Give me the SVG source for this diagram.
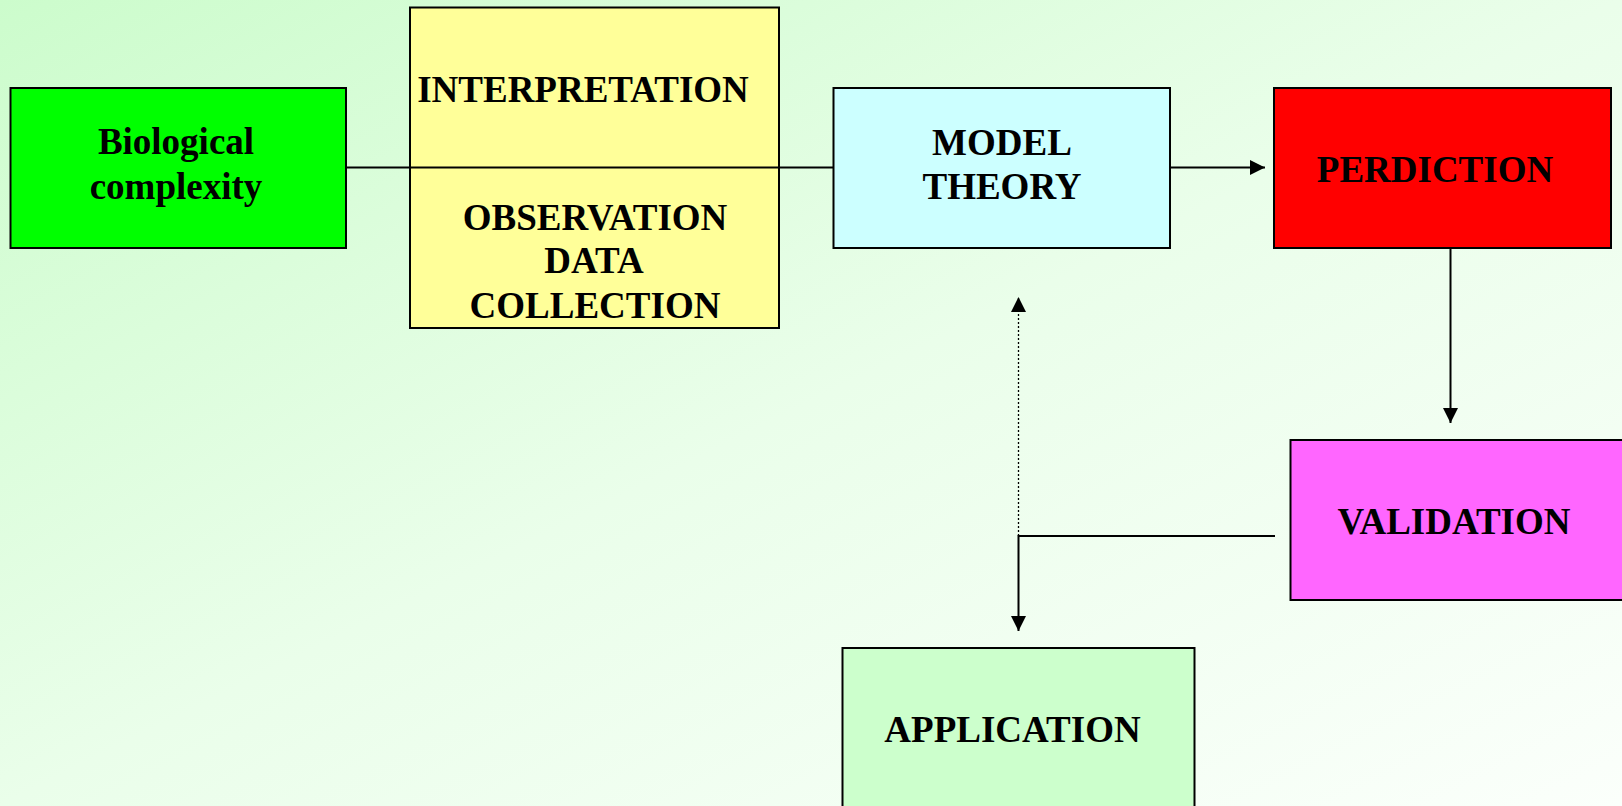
<svg xmlns="http://www.w3.org/2000/svg" width="1622" height="806" viewBox="0 0 1622 806">
<defs>
<linearGradient id="bg" x1="0" y1="0" x2="1" y2="1">
<stop offset="0" stop-color="#ccfccc"/>
<stop offset="0.5" stop-color="#eafeea"/>
<stop offset="1" stop-color="#fbfffb"/>
</linearGradient>
<marker id="arr" markerWidth="16" markerHeight="16" refX="15" refY="7.5" orient="auto" markerUnits="userSpaceOnUse">
<path d="M0,0 L15,7.5 L0,15 Z" fill="#000"/>
</marker>
</defs>
<style>
.box{stroke:#000;stroke-width:2}
.t{font-family:"Liberation Serif","Times New Roman",serif;font-weight:bold;font-size:37px;fill:#000;text-anchor:middle}
.c{stroke:#000;stroke-width:2;fill:none}
</style>
<rect width="1622" height="806" fill="url(#bg)"/>
<g id="connectors">
<line class="c" x1="346" y1="167.5" x2="833" y2="167.5"/>
<line class="c" x1="1170" y1="167.5" x2="1265" y2="167.5" marker-end="url(#arr)"/>
<line class="c" x1="1450.5" y1="248" x2="1450.5" y2="423" marker-end="url(#arr)"/>
<polyline class="c" points="1275,536 1018.5,536 1018.5,631" marker-end="url(#arr)"/>
<line x1="1018.5" y1="536" x2="1018.5" y2="297" stroke="#000" stroke-width="1.3" stroke-dasharray="2,2" marker-end="url(#arr)"/>
</g>
<g id="bio">
<rect class="box" x="10.5" y="88" width="335.5" height="160" fill="#00ff00"/>
<text class="t" x="176" y="154">Biological</text>
<text class="t" x="176" y="199">complexity</text>
</g>
<g id="interp">
<rect class="box" x="410" y="7.5" width="369" height="320.5" fill="#ffff99"/>
<line x1="410" y1="167.5" x2="779" y2="167.5" stroke="#000" stroke-width="2"/>
<text class="t" x="583" y="101.5">INTERPRETATION</text>
<text class="t" x="595" y="230">OBSERVATION</text>
<text class="t" x="594" y="273">DATA</text>
<text class="t" x="595" y="318">COLLECTION</text>
</g>
<g id="model">
<rect class="box" x="833.5" y="88" width="336.5" height="160" fill="#ccffff"/>
<text class="t" x="1002" y="155">MODEL</text>
<text class="t" x="1002" y="199">THEORY</text>
</g>
<g id="prediction">
<rect class="box" x="1274" y="88" width="337" height="160" fill="#ff0000"/>
<text class="t" x="1435" y="181.5">PERDICTION</text>
</g>
<g id="validation">
<rect class="box" x="1290.5" y="440" width="340" height="160" fill="#ff66ff"/>
<text class="t" x="1454" y="534">VALIDATION</text>
</g>
<g id="application">
<rect class="box" x="842.5" y="648" width="352" height="170" fill="#ccffcc"/>
<text class="t" x="1012.5" y="742">APPLICATION</text>
</g>
</svg>
